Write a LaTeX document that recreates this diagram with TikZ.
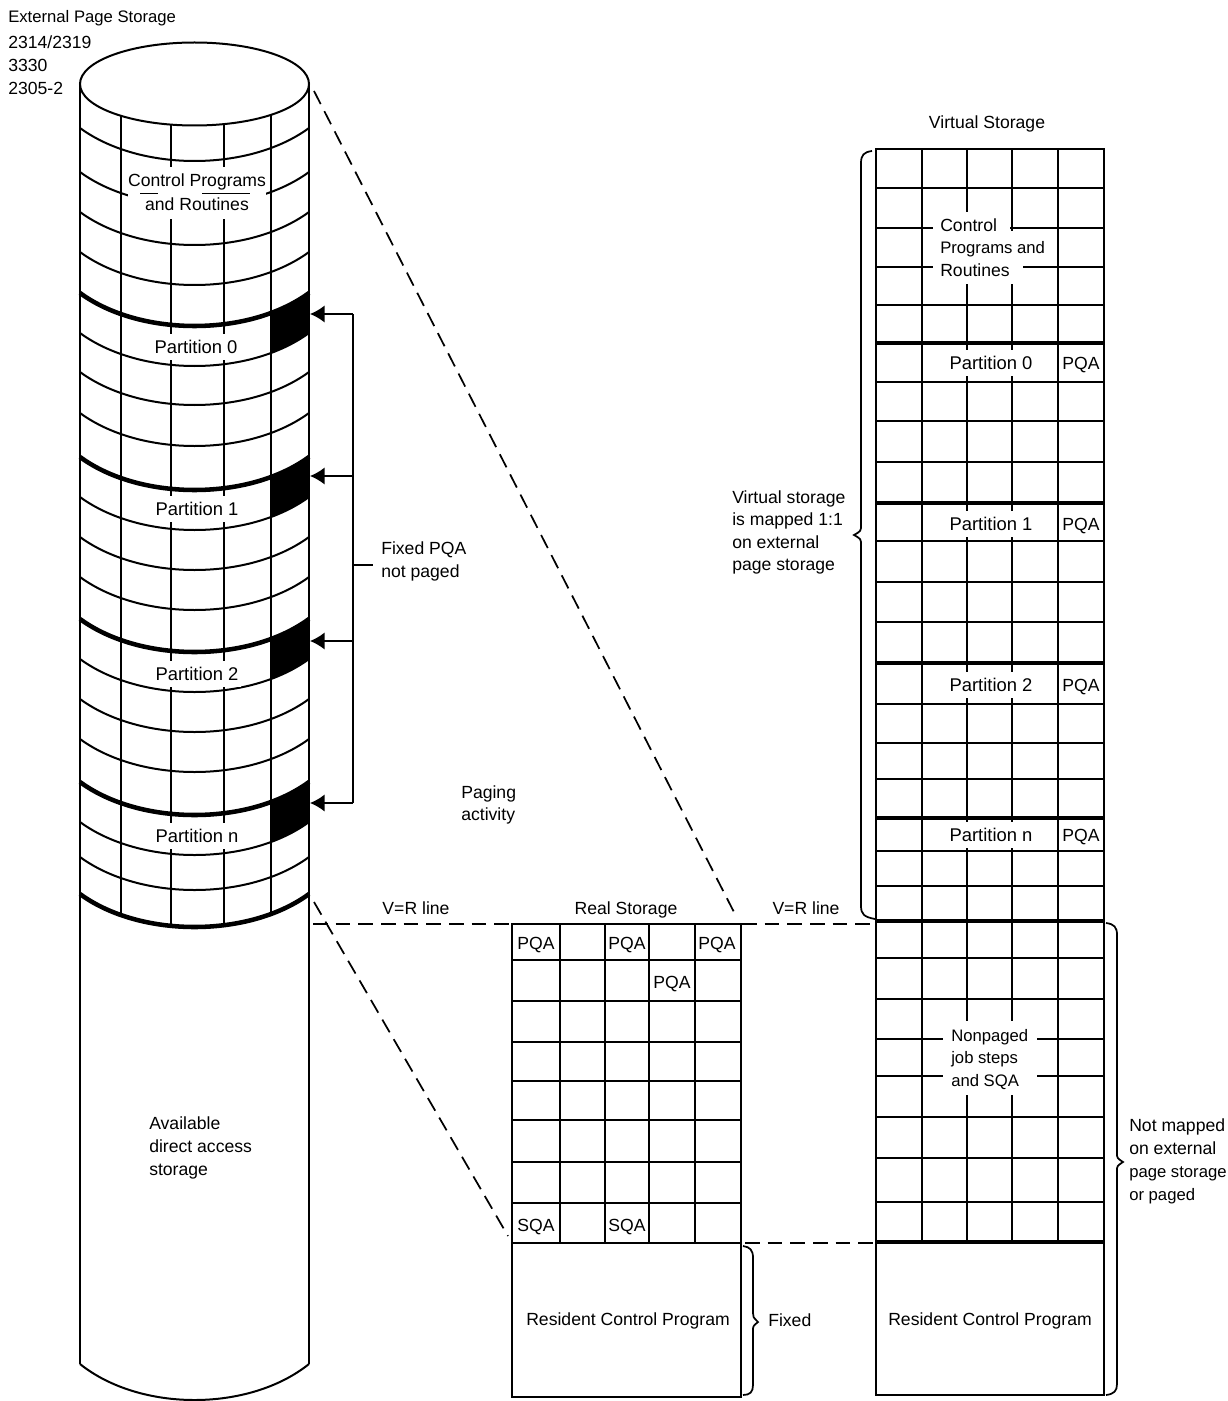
\documentclass[tikz,border=0pt]{standalone}
\usepackage{fontspec}
\setmainfont{Liberation Sans}
\usetikzlibrary{arrows.meta}
\tikzset{
  wire/.style={line width=1.5pt,black},
  heavy/.style={line width=3pt,black},
  heavyring/.style={line width=3.4pt,black},
  link/.style={line width=1.3pt,dash pattern=on 11pt off 6pt},
  bracket/.style={line width=1.3pt},
  lbl/.style={font=\fontsize{13.2}{17}\selectfont,text height=9.5pt,text depth=0pt,inner sep=0pt,anchor=west},
  lblsm/.style={lbl,font=\fontsize{12.5}{17}\selectfont},
  cell/.style={font=\fontsize{13.2}{17}\selectfont,text height=9.5pt,text depth=0pt,inner sep=0pt,anchor=center},
  part/.style={cell,font=\fontsize{13.8}{17}\selectfont,fill=white,inner xsep=2pt,inner ysep=5pt},
  feed/.style={line width=1.2pt,-{Latex[length=11pt,width=13pt]}}
}
\newcommand{\ring}[2][wire]{\draw[#1] (80,#2-33) .. controls (140,#2+11) and (249,#2+11) .. (309,#2-33);}
\newcommand{\pqapatch}[2]{
\begin{scope}
\clip (271,0) rectangle (309.7,1401);
\fill[black] (80,#1-33) .. controls (140,#1+11) and (249,#1+11) .. (309,#1-33) -- (309,#2-33) .. controls (249,#2+11) and (140,#2+11) .. (80,#2-33) -- cycle;
\end{scope}}
\begin{document}
\begin{tikzpicture}[x=0.75pt,y=-0.75pt]
\useasboundingbox (0,0) rectangle (1227,1401);
\fill[white] (0,0) rectangle (1227,1401);

% external page storage
\draw[wire] (194.5,84) ellipse [x radius=114.5,y radius=41.5];
\draw[wire] (80,84) -- (80,1364);
\draw[wire] (309,84) -- (309,1364);
\draw[wire] (80,1364) .. controls (140,1412) and (249,1412) .. (309,1364);
\draw[wire] (121,115) -- (121,915);
\draw[wire] (171,125) -- (171,926);
\draw[wire] (224,125) -- (224,926);
\draw[wire] (271,115) -- (271,915);
\ring{161}
\ring{205}
\ring{245}
\ring{285}
\ring[heavyring]{326}
\ring{366}
\ring{405}
\ring{446}
\ring[heavyring]{490}
\ring{530}
\ring{570}
\ring{610}
\ring[heavyring]{652}
\ring{692}
\ring{732}
\ring{772}
\ring[heavyring]{815}
\ring{855}
\ring{890}
\ring[heavyring]{927}
\pqapatch{326}{366}
\pqapatch{490}{530}
\pqapatch{652}{692}
\pqapatch{815}{855}

% real storage
\draw[wire] (512,924) rectangle (741,1397);
\draw[wire] (512,960) -- (741,960);
\draw[wire] (512,1001) -- (741,1001);
\draw[wire] (512,1042) -- (741,1042);
\draw[wire] (512,1081) -- (741,1081);
\draw[wire] (512,1120) -- (741,1120);
\draw[wire] (512,1162) -- (741,1162);
\draw[wire] (512,1203) -- (741,1203);
\draw[wire] (512,1243) -- (741,1243);
\draw[wire] (560,924) -- (560,1243);
\draw[wire] (605,924) -- (605,1243);
\draw[wire] (649,924) -- (649,1243);
\draw[wire] (695,924) -- (695,1243);

% virtual storage
\draw[wire] (876,149) rectangle (1104,1395);
\draw[wire] (922,149) -- (922,1242);
\draw[wire] (967,149) -- (967,1242);
\draw[wire] (1012,149) -- (1012,1242);
\draw[wire] (1058,149) -- (1058,1242);
\draw[wire] (876,188) -- (1104,188);
\draw[wire] (876,228) -- (1104,228);
\draw[wire] (876,267) -- (1104,267);
\draw[wire] (876,305) -- (1104,305);
\draw[heavy] (876,343) -- (1104,343);
\draw[wire] (876,382) -- (1104,382);
\draw[wire] (876,421) -- (1104,421);
\draw[wire] (876,462) -- (1104,462);
\draw[heavy] (876,503) -- (1104,503);
\draw[wire] (876,541) -- (1104,541);
\draw[wire] (876,582) -- (1104,582);
\draw[wire] (876,622) -- (1104,622);
\draw[heavy] (876,663) -- (1104,663);
\draw[wire] (876,704) -- (1104,704);
\draw[wire] (876,743) -- (1104,743);
\draw[wire] (876,779) -- (1104,779);
\draw[heavy] (876,818) -- (1104,818);
\draw[wire] (876,851) -- (1104,851);
\draw[wire] (876,886) -- (1104,886);
\draw[heavy] (876,921) -- (1104,921);
\draw[wire] (876,958) -- (1104,958);
\draw[wire] (876,999) -- (1104,999);
\draw[wire] (876,1039) -- (1104,1039);
\draw[wire] (876,1076) -- (1104,1076);
\draw[wire] (876,1117) -- (1104,1117);
\draw[wire] (876,1158) -- (1104,1158);
\draw[wire] (876,1202) -- (1104,1202);
\draw[heavy] (876,1242) -- (1104,1242);

% gaps behind the running text
\fill[white] (128,167) rectangle (266,219);
\draw[line width=0.7pt] (140,193) -- (158,193);
\draw[line width=0.7pt] (202,193) -- (250,193);
\fill[white] (933,212) rectangle (1010,284);
\fill[white] (1010,231) rectangle (1023,284);
\fill[white] (943,1021) rectangle (1037,1095);

% connectors
\coordinate (cyltop) at (314,91);
\coordinate (cylmid) at (314,902);
\coordinate (cylline) at (313,924);
\coordinate (realnw) at (512,924);
\coordinate (realne) at (742,924);
\coordinate (realtip) at (737,918);
\coordinate (realsw) at (508,1236);
\coordinate (realfix) at (745,1243);
\coordinate (virtnw) at (875,924);
\coordinate (virtfix) at (875,1243);
\draw[link] (cyltop) -- (realtip);
\draw[link] (cylmid) -- (realsw);
\draw[link] (cylline) -- (realnw);
\draw[link] (realne) -- (virtnw);
\draw[link] (realfix) -- (virtfix);

\coordinate (tap0) at (353,314);
\coordinate (tap1) at (353,476);
\coordinate (tap2) at (353,641);
\coordinate (tap3) at (353,803);
\coordinate (pqa0) at (310,314);
\coordinate (pqa1) at (310,476);
\coordinate (pqa2) at (310,641);
\coordinate (pqa3) at (310,803);
\coordinate (tapmid) at (353,565);
\coordinate (tapend) at (373,565);
\draw[line width=1.2pt] (tap0) -- (tap3);
\draw[line width=1.2pt] (tapmid) -- (tapend);
\draw[feed] (tap0) -- (pqa0);
\draw[feed] (tap1) -- (pqa1);
\draw[feed] (tap2) -- (pqa2);
\draw[feed] (tap3) -- (pqa3);

% braces
\draw[bracket] (872,151) .. controls (864,152) and (861,155) .. (861,163) -- (861,525) .. controls (861,531) .. (854,535) .. controls (861,539) .. (861,545) -- (861,906) .. controls (861,914) and (864,917) .. (875,919);
\draw[bracket] (1106,923) .. controls (1114,924) and (1117,927) .. (1117,935) -- (1117,1153) .. controls (1117,1158) .. (1123,1162) .. controls (1117,1166) .. (1117,1171) -- (1117,1384) .. controls (1117,1391) and (1114,1394) .. (1106,1395);
\draw[bracket] (743,1246) .. controls (750,1247) and (753,1250) .. (753,1258) -- (753,1313) .. controls (753,1317) .. (758,1322) .. controls (753,1326) .. (753,1331) -- (753,1385) .. controls (753,1392) and (750,1395) .. (743,1395);

% labels
\node[lblsm] (extlabel) at (8,16) {External Page Storage};
\node[lbl] (dev1) at (8,42) {2314/2319};
\node[lbl] (dev2) at (8,65) {3330};
\node[lbl] (dev3) at (8,88) {2305-2};
\node[cell] (cyllabel) at (197,180) {Control Programs};
\node[cell] (cyllabel2) at (197,204) {and Routines};
\node[part] (cylp0) at (196,347) {Partition 0};
\node[part] (cylp1) at (197,509) {Partition 1};
\node[part] (cylp2) at (197,674) {Partition 2};
\node[part] (cylpn) at (197,836) {Partition n};
\node[lbl] (avail1) at (149,1123) {Available};
\node[lbl] (avail2) at (149,1146) {direct access};
\node[lbl] (avail3) at (149,1169) {storage};
\node[lbl] (fixpqa1) at (381,548) {Fixed PQA};
\node[lbl] (fixpqa2) at (381,571) {not paged};
\node[lbl] (paging1) at (461,792) {Paging};
\node[lbl] (paging2) at (461,814) {activity};
\node[cell] (vr1) at (416,908) {V=R line};
\node[cell] (vr2) at (806,908) {V=R line};
\node[cell] (realtitle) at (626,908) {Real Storage};
\node[cell] (rpqa1) at (536,943) {PQA};
\node[cell] (rpqa2) at (627,943) {PQA};
\node[cell] (rpqa3) at (717,943) {PQA};
\node[cell] (rpqa4) at (672,982) {PQA};
\node[cell] (rsqa1) at (536,1225) {SQA};
\node[cell] (rsqa2) at (627,1225) {SQA};
\node[cell] (rescp1) at (628,1319) {Resident Control Program};
\node[lbl] (fixedlbl) at (768,1320) {Fixed};
\node[cell] (virttitle) at (987,122) {Virtual Storage};
\node[lbl] (vcp1) at (940,225) {Control};
\node[lblsm] (vcp2) at (940,247) {Programs and};
\node[lbl] (vcp3) at (940,270) {Routines};
\node[part] (vp0) at (991,363) {Partition 0};
\node[part] (vp1) at (991,524) {Partition 1};
\node[part] (vp2) at (991,685) {Partition 2};
\node[part] (vpn) at (991,835) {Partition n};
\node[cell] (vpqa0) at (1081,363) {PQA};
\node[cell] (vpqa1) at (1081,524) {PQA};
\node[cell] (vpqa2) at (1081,685) {PQA};
\node[cell] (vpqan) at (1081,835) {PQA};
\node[lbl] (map1) at (732,497) {Virtual storage};
\node[lbl] (map2) at (732,519) {is mapped 1:1};
\node[lbl] (map3) at (732,542) {on external};
\node[lbl] (map4) at (732,564) {page storage};
\node[lblsm] (npj1) at (951,1035) {Nonpaged};
\node[lblsm] (npj2) at (951,1057) {job steps};
\node[lblsm] (npj3) at (951,1080) {and SQA};
\node[lbl] (nmap1) at (1129,1125) {Not mapped};
\node[lbl] (nmap2) at (1129,1148) {on external};
\node[lblsm] (nmap3) at (1129,1171) {page storage};
\node[lblsm] (nmap4) at (1129,1194) {or paged};
\node[cell] (rescp2) at (990,1319) {Resident Control Program};
\end{tikzpicture}
\end{document}
